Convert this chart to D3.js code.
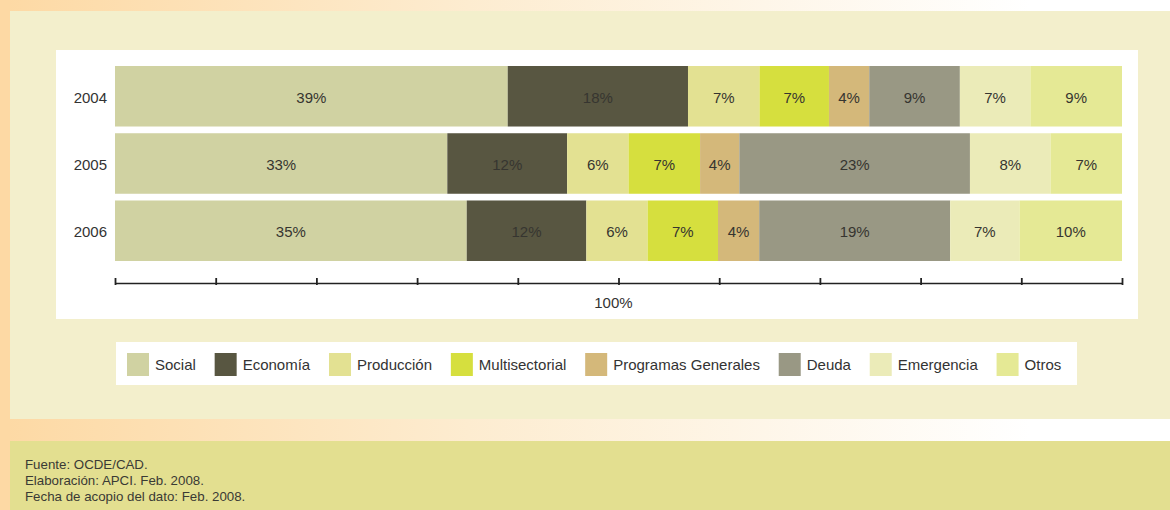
<!DOCTYPE html>
<html>
<head>
<meta charset="utf-8">
<script src="https://cdn.jsdelivr.net/npm/d3@7"></script>
<style>
  html, body { margin: 0; padding: 0; background: #fff; }
  svg { display: block; }
  text { font-family: "Liberation Sans", Arial, Helvetica, sans-serif; fill: #333; }
</style>
</head>
<body>
<svg id="chart" width="1170" height="510"></svg>
<script>
// ---- data ----
const years = ["2004", "2005", "2006"];
const sectors = ["Social", "Economía", "Producción", "Multisectorial", "Programas Generales", "Deuda", "Emergencia", "Otros"];
const social         = [39.0, 33.0, 35.0];
const economia       = [17.9, 11.9, 11.9];
const produccion     = [7.1, 6.1, 6.1];
const multisectorial = [6.9, 7.1, 7.0];
const programas      = [4.0, 3.9, 4.1];
const deuda          = [9.0, 22.9, 19.0];
const emergencia     = [7.0, 8.0, 6.9];
const otros          = [9.1, 7.1, 10.2];
const seriesValues = [social, economia, produccion, multisectorial, programas, deuda, emergencia, otros];
const colors = ["#d0d2a2", "#585641", "#e3e192", "#d6df3e", "#d4b87a", "#999884", "#ebebb8", "#e5e995"];
const xTicks = [0, 10, 20, 30, 40, 50, 60, 70, 80, 90, 100];
const axisTitle = "100%";
const footer = ["Fuente: OCDE/CAD.", "Elaboración: APCI. Feb. 2008.", "Fecha de acopio del dato: Feb. 2008."];

// ---- table for stacking ----
const table = years.map((y, i) => {
  const row = { year: y };
  sectors.forEach((s, j) => row[s] = seriesValues[j][i]);
  return row;
});

const svg = d3.select("#chart");
const W = 1170, H = 510;

// ---- background ----
const defs = svg.append("defs");
const grad = defs.append("linearGradient").attr("id", "orangeFade").attr("x1", "0%").attr("x2", "100%");
grad.append("stop").attr("offset", "0%").attr("stop-color", "#fdd9a4");
grad.append("stop").attr("offset", "40%").attr("stop-color", "#fdecd0");
grad.append("stop").attr("offset", "88%").attr("stop-color", "#ffffff");

svg.append("rect").attr("x", 0).attr("y", 0).attr("width", W).attr("height", H).attr("fill", "#fff");
svg.append("rect").attr("x", 0).attr("y", 0).attr("width", W).attr("height", 11).attr("fill", "url(#orangeFade)");
svg.append("rect").attr("x", 0).attr("y", 419).attr("width", W).attr("height", 22).attr("fill", "url(#orangeFade)");
svg.append("rect").attr("x", 0).attr("y", 0).attr("width", 10).attr("height", H).attr("fill", "#fdd9a4");
svg.append("rect").attr("x", 10).attr("y", 11).attr("width", W - 10).attr("height", 408).attr("fill", "#f3efcc");
svg.append("rect").attr("x", 10).attr("y", 441).attr("width", W - 10).attr("height", H - 441).attr("fill", "#e3df90");
svg.append("rect").attr("x", 56).attr("y", 50).attr("width", 1082).attr("height", 269).attr("fill", "#fff");

// ---- scales ----
const x = d3.scaleLinear().domain([0, 100]).range([115, 1122]);
const y = d3.scaleBand().domain(years).range([66, 261]).paddingInner(0.1).paddingOuter(0);

const stack = d3.stack().keys(sectors).offset(d3.stackOffsetExpand);
const stacked = stack(table);

// ---- bars ----
const g = svg.append("g");
const layers = g.selectAll("g.layer").data(stacked).join("g")
  .attr("class", "layer")
  .attr("fill", (d, i) => colors[i]);

layers.selectAll("rect").data(d => d).join("rect")
  .attr("x", d => x(d[0] * 100))
  .attr("width", d => x(d[1] * 100) - x(d[0] * 100))
  .attr("y", d => y(d.data.year))
  .attr("height", y.bandwidth());

layers.selectAll("text").data(d => d.map(v => ({ v, key: d.key }))).join("text")
  .attr("x", d => (x(d.v[0] * 100) + x(d.v[1] * 100)) / 2)
  .attr("y", d => y(d.v.data.year) + y.bandwidth() / 2)
  .attr("dy", "0.45em")
  .attr("text-anchor", "middle")
  .attr("font-size", 15)
  .style("fill", "#363530")
  .text(d => Math.round(d.v.data[d.key]) + "%");

// ---- year labels ----
g.selectAll("text.year").data(years).join("text")
  .attr("class", "year")
  .attr("x", 107)
  .attr("y", d => y(d) + y.bandwidth() / 2)
  .attr("dy", "0.45em")
  .attr("text-anchor", "end")
  .attr("font-size", 15)
  .text(d => d);

// ---- axis ----
const axisG = svg.append("g").attr("transform", "translate(0,283.5)");
const axis = d3.axisBottom(x).tickValues(xTicks).tickSize(0).tickFormat("");
axisG.call(axis);
axisG.select(".domain").attr("stroke", "#222").attr("stroke-width", 1.4).attr("d", `M${x(0)},0H${x(100)}`);
axisG.selectAll(".tick line").remove();
axisG.selectAll(".tick").append("line")
  .attr("y1", -5.5).attr("y2", 1.5)
  .attr("stroke", "#222").attr("stroke-width", 1.8);

svg.append("text")
  .attr("x", x(49.5))
  .attr("y", 302)
  .attr("dy", "0.4em")
  .attr("text-anchor", "middle")
  .attr("font-size", 15)
  .text(axisTitle);

// ---- legend ----
svg.append("rect").attr("x", 116).attr("y", 342).attr("width", 961).attr("height", 43).attr("fill", "#fff");
const legend = svg.append("g");
let lx = 127;
sectors.forEach((s, i) => {
  const item = legend.append("g").attr("transform", `translate(${lx},0)`);
  item.append("rect").attr("x", 0).attr("y", 353).attr("width", 22).attr("height", 23).attr("fill", colors[i]);
  const t = item.append("text").attr("x", 28).attr("y", 364).attr("dy", "0.4em").attr("font-size", 15).text(s);
  lx += 28 + t.node().getComputedTextLength() + 18.8;
});

// ---- footer ----
svg.append("g").selectAll("text").data(footer).join("text")
  .attr("x", 25)
  .attr("y", (d, i) => 463.5 + i * 16.2)
  .attr("dy", "0.38em")
  .attr("font-size", 13.3)
  .style("fill", "#3a3a35")
  .text(d => d);
</script>
</body>
</html>
